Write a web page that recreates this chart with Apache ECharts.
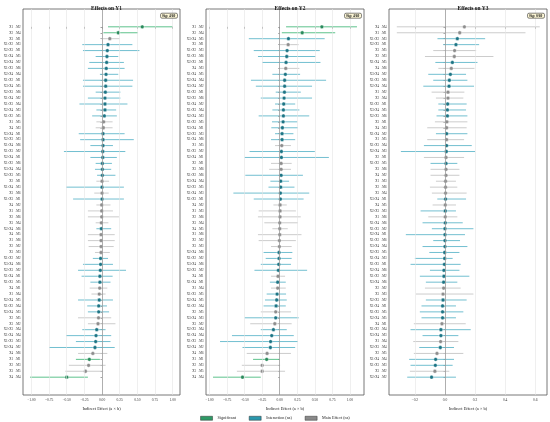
<!DOCTYPE html>
<html>
<head>
<meta charset="utf-8">
<script src="https://cdn.jsdelivr.net/npm/echarts@6/dist/echarts.min.js"></script>
<style>
  html, body { margin: 0; padding: 0; background: #fff; }
  #chart { width: 550px; height: 422px; }
</style>
</head>
<body>
<div id="chart"></div>
<script>
const FONT = 'Liberation Serif'

const panelTitles = ['Effects on Y1', 'Effects on Y2', 'Effects on Y3']
const sigLabels = ['Sig: 4/60', 'Sig: 4/60', 'Sig: 0/60']
const wideTicks = [-1, -0.75, -0.5, -0.25, 0, 0.25, 0.5, 0.75, 1]
const narrowTicks = [-0.2, 0, 0.2, 0.4, 0.6]

// Y1 (S = significant, I = interaction, M = main effect)
const y1Labels = ['X1→M2', 'X2→M4', 'X3→M1', 'X1×X2→M3', 'X2×X3→M1', 'X1×X4→M5', 'X3×X4→M2', 'X1×X3→M6', 'X2×X4→M4', 'X1×X2→M1',
  'X3×X4→M5', 'X2×X3→M6', 'X1×X4→M2', 'X1×X3→M4', 'X2×X4→M3', 'X1×X2→M5', 'X1→M5', 'X4→M3', 'X3×X4→M1', 'X2×X3→M3',
  'X1×X4→M6', 'X1×X3→M2', 'X2×X4→M1', 'X1×X2→M6', 'X3×X4→M4', 'X2×X3→M5', 'X2→M1', 'X1×X4→M3', 'X3→M6', 'X1×X3→M1',
  'X4→M2', 'X1→M3', 'X2→M6', 'X3→M4', 'X2×X4→M6', 'X4→M5', 'X1→M6', 'X2→M2', 'X3→M3', 'X1×X2→M2',
  'X3×X4→M6', 'X2×X3→M2', 'X1×X4→M1', 'X1×X3→M5', 'X4→M1', 'X1→M4', 'X2×X4→M5', 'X1×X2→M4', 'X3×X4→M3', 'X2→M5',
  'X3→M2', 'X2×X3→M4', 'X1×X4→M4', 'X1×X3→M3', 'X2×X4→M2', 'X4→M6', 'X1→M1', 'X2→M3', 'X3→M5', 'X4→M4']
const y1Type = 'SSMIIIIIIIIIIIIIMMIIIIIIIIMIMIMMMMIMMMMIIIIIMMIIIMMIIIIMSMMS'.split('')
const y1Est = [0.57, 0.23, 0.11, 0.085, 0.075, 0.07, 0.066, 0.06, 0.057, 0.052,
  0.052, 0.047, 0.042, 0.042, 0.042, 0.033, 0.024, 0.019, 0.014, 0.014,
  0.014, 0.01, 0.01, 0.005, 0.005, 0.005, 0, 0, 0, 0,
  -0.005, -0.005, -0.005, -0.01, -0.01, -0.014, -0.014, -0.014, -0.014, -0.02,
  -0.02, -0.024, -0.03, -0.03, -0.033, -0.04, -0.04, -0.047, -0.047, -0.05,
  -0.057, -0.075, -0.085, -0.09, -0.1, -0.13, -0.18, -0.19, -0.235, -0.5]
const y1Lo = [0.085, 0.02, -0.01, -0.28, -0.27, -0.09, -0.18, -0.2, -0.03, -0.27,
  -0.27, -0.09, -0.2, -0.32, -0.08, -0.14, -0.08, -0.09, -0.33, -0.31,
  -0.165, -0.54, -0.165, -0.09, -0.1, -0.07, -0.08, -0.51, -0.11, -0.41,
  -0.08, -0.2, -0.2, -0.09, -0.08, -0.2, -0.2, -0.19, -0.1, -0.13,
  -0.27, -0.34, -0.29, -0.165, -0.175, -0.15, -0.34, -0.21, -0.2, -0.34,
  -0.2, -0.28, -0.51, -0.37, -0.75, -0.34, -0.37, -0.47, -0.52, -1.02]
const y1Hi = [1.0, 0.51, 0.25, 0.43, 0.53, 0.23, 0.31, 0.32, 0.23, 0.44,
  0.43, 0.26, 0.26, 0.36, 0.2, 0.21, 0.15, 0.15, 0.32, 0.45,
  0.155, 0.33, 0.21, 0.14, 0.13, 0.19, 0.1, 0.31, 0.095, 0.31,
  0.12, 0.155, 0.24, 0.09, 0.13, 0.18, 0.18, 0.165, 0.11, 0.085,
  0.155, 0.34, 0.15, 0.12, 0.075, 0.05, 0.155, 0.07, 0.1, 0.13,
  0.19, 0.05, 0.13, 0.12, 0.18, 0.075, -0.03, 0.05, 0.015, -0.2]

// Y2
const y2Labels = ['X1→M2', 'X2→M4', 'X3×X4→M5', 'X3→M1', 'X1×X2→M3', 'X1×X3→M6', 'X2×X3→M1', 'X4→M3', 'X1×X4→M5', 'X2×X4→M4',
  'X3×X4→M2', 'X1×X2→M1', 'X2×X3→M6', 'X1×X4→M2', 'X1×X3→M4', 'X2×X4→M3', 'X1×X2→M5', 'X3×X4→M1', 'X2×X3→M3', 'X1×X4→M6',
  'X1→M5', 'X1×X3→M2', 'X2×X4→M1', 'X2→M1', 'X3→M6', 'X1×X2→M6', 'X3×X4→M4', 'X2×X3→M5', 'X1×X4→M3', 'X1×X3→M1',
  'X4→M2', 'X1→M3', 'X2→M6', 'X3→M4', 'X4→M5', 'X1→M6', 'X2→M2', 'X3→M3', 'X2×X4→M6', 'X1×X2→M2',
  'X3×X4→M6', 'X2×X3→M2', 'X4→M1', 'X1×X4→M1', 'X1→M4', 'X1×X3→M5', 'X2×X4→M5', 'X1×X2→M4', 'X2→M5', 'X3×X4→M3',
  'X3→M2', 'X2×X3→M4', 'X1×X4→M4', 'X1×X3→M3', 'X2×X4→M2', 'X4→M6', 'X1→M1', 'X2→M3', 'X3→M5', 'X4→M4']
const y2Type = 'SSIMIIIMIIIIIIIIIIIIMIIMMIIIIIMMMMMMMMIIIIMIMIIIMIMIIIIMSMMS'.split('')
const y2Est = [0.6, 0.32, 0.124, 0.12, 0.105, 0.1, 0.09, 0.086, 0.08, 0.07,
  0.07, 0.067, 0.062, 0.057, 0.052, 0.052, 0.048, 0.038, 0.033, 0.033,
  0.029, 0.024, 0.024, 0.02, 0.02, 0.02, 0.014, 0.014, 0.01, 0.01,
  0.005, 0.005, 0.005, 0, 0, 0, -0.005, -0.005, -0.01, -0.01,
  -0.014, -0.02, -0.024, -0.029, -0.029, -0.038, -0.043, -0.052, -0.057, -0.057,
  -0.07, -0.09, -0.114, -0.13, -0.133, -0.18, -0.186, -0.25, -0.25, -0.53]
const y2Lo = [0.09, 0.03, -0.44, -0.01, -0.37, -0.31, -0.25, -0.01, -0.105, -0.41,
  -0.34, -0.057, -0.27, -0.067, -0.105, -0.3, -0.11, -0.12, -0.067, -0.124,
  -0.067, -0.43, -0.5, -0.124, -0.15, -0.49, -0.133, -0.16, -0.66, -0.37,
  -0.09, -0.3, -0.31, -0.22, -0.105, -0.31, -0.3, -0.124, -0.23, -0.2,
  -0.27, -0.36, -0.124, -0.14, -0.124, -0.186, -0.21, -0.23, -0.27, -0.5,
  -0.42, -0.27, -0.68, -0.85, -0.53, -0.47, -0.38, -0.54, -0.61, -0.95]
const y2Hi = [1.1, 0.79, 0.64, 0.27, 0.57, 0.51, 0.58, 0.28, 0.29, 0.66,
  0.46, 0.3, 0.46, 0.22, 0.28, 0.42, 0.25, 0.26, 0.195, 0.22,
  0.16, 0.5, 0.7, 0.17, 0.16, 0.33, 0.133, 0.21, 0.42, 0.34,
  0.1, 0.23, 0.3, 0.26, 0.114, 0.31, 0.23, 0.17, 0.18, 0.17,
  0.16, 0.39, 0.076, 0.086, 0.086, 0.09, 0.1, 0.086, 0.16, 0.27,
  0.17, 0.1, 0.2, 0.26, 0.22, 0.16, -0.005, 0.005, 0.076, -0.27]

// Y3
const y3Labels = ['X4→M4', 'X1→M1', 'X1×X2→M3', 'X2×X3→M1', 'X3→M5', 'X2→M3', 'X1×X4→M5', 'X4→M6', 'X3×X4→M2', 'X1×X3→M6',
  'X2×X4→M4', 'X1→M2', 'X2→M4', 'X1×X2→M1', 'X3×X4→M5', 'X2×X3→M6', 'X3→M1', 'X4→M3', 'X1×X4→M2', 'X1→M5',
  'X1×X3→M4', 'X2×X4→M3', 'X2→M1', 'X1×X2→M5', 'X3→M6', 'X4→M2', 'X1→M3', 'X2→M6', 'X3→M4', 'X3×X4→M1',
  'X4→M5', 'X2×X3→M3', 'X1→M6', 'X1×X4→M6', 'X1×X3→M2', 'X2×X4→M1', 'X1×X2→M6', 'X3×X4→M4', 'X2×X3→M5', 'X1×X4→M3',
  'X1×X3→M1', 'X2×X4→M6', 'X1×X2→M2', 'X3×X4→M6', 'X2→M2', 'X3→M3', 'X2×X3→M2', 'X1×X4→M1', 'X1×X3→M5', 'X2×X4→M5',
  'X4→M1', 'X1×X2→M4', 'X3×X4→M3', 'X1→M4', 'X2×X3→M4', 'X2→M5', 'X1×X4→M4', 'X1×X3→M3', 'X3→M2', 'X2×X4→M2']
const y3Type = 'MMIIMMIMIIIMMIIIMMIMIIMIMMMMMIMIMIIIIIIIIIIIMMIIIIMIIMIMIIMI'.split('')
const y3Est = [0.129, 0.098, 0.082, 0.073, 0.064, 0.062, 0.049, 0.042, 0.036, 0.029,
  0.027, 0.02, 0.02, 0.018, 0.016, 0.016, 0.013, 0.011, 0.011, 0.011,
  0.011, 0.009, 0.007, 0.007, 0.007, 0.007, 0.004, 0.004, 0.004, 0.004,
  0.002, 0.002, 0.002, 0.002, 0, 0, 0, 0, -0.002, -0.002,
  -0.004, -0.007, -0.007, -0.009, -0.009, -0.013, -0.013, -0.016, -0.016, -0.016,
  -0.02, -0.027, -0.027, -0.029, -0.031, -0.053, -0.062, -0.064, -0.067, -0.089]
const y3Lo = [-0.32, -0.32, -0.05, -0.011, -0.078, -0.133, -0.064, -0.044, -0.111, -0.078,
  -0.144, -0.089, -0.06, -0.044, -0.044, -0.056, -0.067, -0.118, -0.06, -0.118,
  -0.14, -0.293, -0.14, -0.096, -0.096, -0.096, -0.06, -0.1, -0.087, -0.051,
  -0.082, -0.162, -0.111, -0.149, -0.087, -0.26, -0.078, -0.149, -0.104, -0.2,
  -0.229, -0.1, -0.167, -0.127, -0.133, -0.193, -0.127, -0.156, -0.167, -0.156,
  -0.207, -0.229, -0.149, -0.211, -0.171, -0.207, -0.238, -0.229, -0.233, -0.251]
const y3Hi = [0.63, 0.535, 0.267, 0.227, 0.207, 0.322, 0.216, 0.196, 0.14, 0.149,
  0.193, 0.129, 0.122, 0.144, 0.14, 0.149, 0.149, 0.144, 0.149, 0.127,
  0.178, 0.2, 0.127, 0.082, 0.096, 0.096, 0.073, 0.082, 0.144, 0.14,
  0.073, 0.073, 0.082, 0.118, 0.189, 0.133, 0.1, 0.149, 0.096, 0.051,
  0.104, 0.096, 0.162, 0.082, 0.104, 0.189, 0.144, 0.073, 0.122, 0.073,
  0.138, 0.171, 0.089, 0.089, 0.06, 0.122, 0.06, 0.051, 0.029, 0.073]

const typeStyle = {
  S: { name: 'Significant', line: '#4cbb7f', point: '#2a8a5c', legend: '#2e9a66' },
  I: { name: 'Interaction (ns)', line: '#62b8cb', point: '#1d7585', legend: '#2a98ad' },
  M: { name: 'Main Effect (ns)', line: '#c6c6c6', point: '#8e8e8e', legend: '#8a8a8a' }
}

const panels = [
  { labels: y1Labels, type: y1Type, est: y1Est, lo: y1Lo, hi: y1Hi, ticks: wideTicks, digits: 2, min: -1.12, max: 1.105, left: 23, right: 180 },
  { labels: y2Labels, type: y2Type, est: y2Est, lo: y2Lo, hi: y2Hi, ticks: wideTicks, digits: 2, min: -1.05, max: 1.2, left: 206, right: 364 },
  { labels: y3Labels, type: y3Type, est: y3Est, lo: y3Lo, hi: y3Hi, ticks: narrowTicks, digits: 1, min: -0.372, max: 0.678, left: 389, right: 547 }
]

function fmt(v, digits) {
  return v.toFixed(digits).replace('-', '\u2212')
}

function renderBar(colors) {
  return function (params, api) {
    const row = api.value(3)
    const a = api.coord([api.value(1), row])
    const b = api.coord([api.value(2), row])
    const c = api.coord([api.value(0), row])
    return {
      type: 'group',
      children: [
        { type: 'line', shape: { x1: a[0], y1: a[1], x2: b[0], y2: b[1] }, style: { stroke: colors.line, lineWidth: 0.9 } },
        { type: 'circle', shape: { cx: c[0], cy: c[1], r: 1.9 }, style: { fill: colors.point, stroke: '#ffffff', lineWidth: 0.4 } }
      ]
    }
  }
}

const grids = [], xAxes = [], yAxes = [], series = [], titles = []
const rowIdx = y1Est.map((_, i) => i)

panels.forEach((p, k) => {
  grids.push({
    left: p.left, width: p.right - p.left, top: 9, bottom: 27,
    show: true, borderColor: '#555', borderWidth: 0.8, backgroundColor: '#fff'
  })
  xAxes.push({
    type: 'value', gridIndex: k, min: p.min, max: p.max,
    name: 'Indirect Effect (a \u00d7 b)', nameLocation: 'middle', nameGap: 8.5,
    nameTextStyle: { fontFamily: FONT, fontSize: 4.4, color: '#222' },
    axisLine: { show: false },
    axisTick: { show: true, customValues: p.ticks, length: 2, lineStyle: { color: '#444', width: 0.6 } },
    axisLabel: { customValues: p.ticks, fontFamily: FONT, fontSize: 3.6, color: '#333', margin: 3, formatter: v => fmt(v, p.digits) },
    splitLine: { show: false }
  })
  yAxes.push({
    type: 'value', gridIndex: k, min: -3, max: 62, inverse: true,
    axisLine: { show: false },
    axisTick: { show: true, customValues: rowIdx, length: 1.5, lineStyle: { color: '#444', width: 0.5 } },
    axisLabel: { customValues: rowIdx, fontFamily: FONT, fontSize: 3.1, color: '#333', margin: 2.5, formatter: v => p.labels[v] || '' },
    splitLine: { show: false }
  })
  // vertical grid lines and zero reference
  series.push({
    type: 'line', name: 'grid' + k, xAxisIndex: k, yAxisIndex: k, data: [], z: 1,
    markLine: {
      silent: true, symbol: 'none', label: { show: false }, animation: false,
      lineStyle: { color: '#e4e4e4', width: 0.6, type: 'solid' },
      data: p.ticks.filter(t => t !== 0).map(t => ({ xAxis: t }))
        .concat([{ xAxis: 0, lineStyle: { color: '#9a9a9a', width: 0.8, type: 'solid' } }])
    }
  })
  ;['M', 'I', 'S'].forEach(t => {
    const st = typeStyle[t]
    const data = []
    p.type.forEach((tp, i) => { if (tp === t) data.push([p.est[i], p.lo[i], p.hi[i], i]) })
    series.push({
      type: 'custom', name: st.name, xAxisIndex: k, yAxisIndex: k, z: 3,
      itemStyle: { color: st.legend },
      encode: { x: [0, 1, 2], y: 3 },
      renderItem: renderBar(st),
      data: data
    })
  })
  titles.push({
    text: panelTitles[k], left: (p.left + p.right) / 2, textAlign: 'center', top: 1.5,
    textStyle: { fontFamily: FONT, fontSize: 5.4, fontWeight: 'bold', color: '#111' }
  })
  titles.push({
    text: sigLabels[k], right: 550 - p.right + 2.5, top: 12.5,
    backgroundColor: '#fdf7d6', borderColor: '#333', borderWidth: 0.6, borderRadius: 1.5, padding: [1.2, 2.2],
    textStyle: { fontFamily: FONT, fontSize: 3.6, fontWeight: 'bold', color: '#111' }
  })
})

const chart = echarts.init(document.getElementById('chart'), null, { renderer: 'canvas' })
chart.setOption({
  animation: false,
  backgroundColor: '#fff',
  title: titles,
  legend: {
    left: 'center', top: 411, icon: 'rect', itemWidth: 12, itemHeight: 4, itemGap: 13,
    textStyle: { fontFamily: FONT, fontSize: 4.2, color: '#222' },
    data: ['S', 'I', 'M'].map(t => ({
      name: typeStyle[t].name,
      itemStyle: { color: typeStyle[t].legend, borderColor: '#333', borderWidth: 0.5 }
    }))
  },
  grid: grids,
  xAxis: xAxes,
  yAxis: yAxes,
  series: series
})
</script>
</body>
</html>
